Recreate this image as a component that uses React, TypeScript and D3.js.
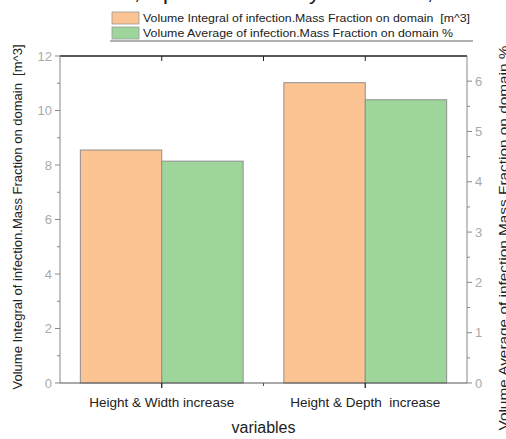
import React from "react";
import * as d3 from "d3";

const categories = ["Height & Width increase", "Height & Depth  increase"];
const integralValues = [8.55, 11.02];
const averageValues = [4.41, 5.63];
const leftTicks = [0, 2, 4, 6, 8, 10, 12];
const rightTicks = [0, 1, 2, 3, 4, 5, 6];
const seriesNames = [
  "Volume Integral of infection.Mass Fraction on domain  [m^3]",
  "Volume Average of infection.Mass Fraction on domain %",
];
const topFragments = [
  { t: ",", x: 134 },
  { t: "p", x: 163 },
  { t: "y", x: 309 },
  { t: ",", x: 427 },
];

const W = 506;
const H = 439;
const M = { left: 60, right: 467, top: 56, bottom: 383 };
const ORANGE = "#fbc492";
const GREEN = "#9dd59a";
const TICKCOL = "#aaaaaa";
const AXCOL = "#888888";
const pre = { whiteSpace: "pre" as const };

export default function App() {
  const x = d3.scaleLinear().domain([0.5, 2.5]).range([M.left, M.right]);
  const yL = d3.scaleLinear().domain([0, 12]).range([M.bottom, M.top]);
  const yR = d3.scaleLinear().domain([0, 6.5]).range([M.bottom, M.top]);
  const bw = x(1.4) - x(1);
  const leftMinor = d3.range(1, 12, 2);
  const rightMinor = d3.range(0.5, 6.5, 1);
  const font = "Arial, 'Liberation Sans', sans-serif";

  return (
    <svg width={W} height={H} style={{ position: "absolute", left: 0, top: 0 }} fontFamily={font}>
      <rect width={W} height={H} fill="#fff" />
      {topFragments.map((f, i) => (
        <text key={i} x={f.x} y={-1} fontSize={22} fill="#111">{f.t}</text>
      ))}
      {/* legend */}
      <g>
        <line x1={110} x2={473} y1={41} y2={41} stroke="#999" strokeWidth={1.5} />
        <rect x={112} y={12} width={27} height={12} fill={ORANGE} stroke="#999" strokeWidth={0.8} />
        <rect x={112} y={27} width={27} height={12} fill={GREEN} stroke="#999" strokeWidth={0.8} />
        <text x={143} y={22} fontSize={11.5} fill="#222" style={pre} textLength={327} lengthAdjust="spacingAndGlyphs">{seriesNames[0]}</text>
        <text x={143} y={37} fontSize={11.5} fill="#222" style={pre} textLength={310} lengthAdjust="spacingAndGlyphs">{seriesNames[1]}</text>
      </g>
      {/* bars */}
      {categories.map((c, i) => (
        <g key={c}>
          <rect x={x(i + 1) - bw} y={yL(integralValues[i])} width={bw}
            height={yL(0) - yL(integralValues[i])} fill={ORANGE} stroke="#8f8f8f" strokeWidth={1} />
          <rect x={x(i + 1)} y={yR(averageValues[i])} width={bw}
            height={yR(0) - yR(averageValues[i])} fill={GREEN} stroke="#8f8f8f" strokeWidth={1} />
        </g>
      ))}
      {/* top border */}
      <line x1={M.left} x2={M.right} y1={M.top} y2={M.top} stroke="#222" strokeWidth={1.5} />
      {[1, 1.5, 2].map((v) => (
        <line key={v} x1={x(v)} x2={x(v)} y1={M.top} y2={M.top + 5} stroke="#222" strokeWidth={1} />
      ))}
      {/* left axis */}
      <line x1={M.left} x2={M.left} y1={M.top} y2={M.bottom} stroke={AXCOL} strokeWidth={1} />
      {leftTicks.map((t) => (
        <g key={t}>
          <line x1={M.left - 5} x2={M.left} y1={yL(t)} y2={yL(t)} stroke={AXCOL} />
          <text x={M.left - 8} y={yL(t)} dy="0.35em" textAnchor="end" fontSize={13} fill={TICKCOL}>{t}</text>
        </g>
      ))}
      {leftMinor.map((t) => (
        <line key={t} x1={M.left - 3} x2={M.left} y1={yL(t)} y2={yL(t)} stroke={AXCOL} />
      ))}
      {/* right axis */}
      <line x1={M.right} x2={M.right} y1={M.top} y2={M.bottom} stroke={AXCOL} strokeWidth={1} />
      {rightTicks.map((t) => (
        <g key={t}>
          <line x1={M.right} x2={M.right + 5} y1={yR(t)} y2={yR(t)} stroke={AXCOL} />
          <text x={M.right + 8} y={yR(t)} dy="0.35em" textAnchor="start" fontSize={13} fill={TICKCOL}>{t}</text>
        </g>
      ))}
      {rightMinor.map((t) => (
        <line key={t} x1={M.right} x2={M.right + 3} y1={yR(t)} y2={yR(t)} stroke={AXCOL} />
      ))}
      {/* bottom axis */}
      <line x1={M.left} x2={M.right} y1={M.bottom} y2={M.bottom} stroke="#555" strokeWidth={1} />
      {categories.map((c, i) => (
        <g key={c}>
          <line x1={x(i + 1)} x2={x(i + 1)} y1={M.bottom} y2={M.bottom + 5} stroke="#222" strokeWidth={1.3} />
          <text x={x(i + 1)} y={407} textAnchor="middle" fontSize={13.5} fill="#222" style={pre}>{c}</text>
        </g>
      ))}
      <line x1={x(1.5)} x2={x(1.5)} y1={M.bottom} y2={M.bottom + 3} stroke="#555" />
      <text x={(M.left + M.right) / 2} y={433} textAnchor="middle" fontSize={16} fill="#222">variables</text>
      {/* axis titles */}
      <text transform={`translate(22,${217}) rotate(-90)`} textAnchor="middle"
        fontSize={13} fill="#222" style={pre} textLength={345} lengthAdjust="spacingAndGlyphs">{seriesNames[0]}</text>
      <text transform={`translate(508,${238}) rotate(-90)`} textAnchor="middle"
        fontSize={13} fill="#222" style={pre} textLength={385} lengthAdjust="spacingAndGlyphs">{seriesNames[1]}</text>
    </svg>
  );
}
